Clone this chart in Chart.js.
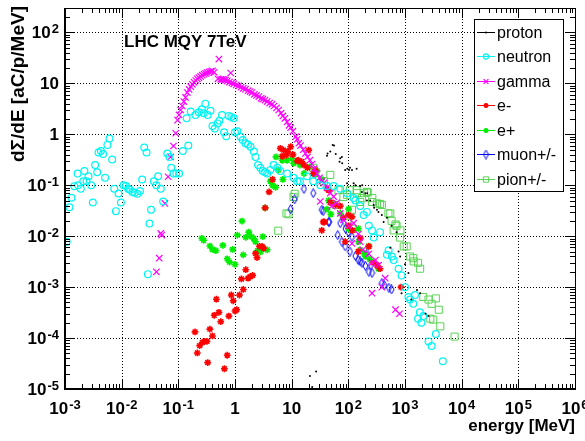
<!DOCTYPE html>
<html>
<head>
<meta charset="utf-8">
<script src="https://cdn.jsdelivr.net/npm/chart.js@4.4.1/dist/chart.umd.min.js"></script>
<style>
  html, body { margin: 0; padding: 0; background: #fff; }
  #wrap { width: 585px; height: 441px; }
</style>
</head>
<body>
<div id="wrap"><canvas id="chart"></canvas></div>
<script>
// energy [MeV], dSigma/dE [aC/p/MeV]
const proton = [[21,1.8e-5],[23,1.1e-5],[27,2.2e-5],[42,0.38],[43,0.42],[48,0.46],[53,0.62],[56,0.6],[60,0.41],[70,0.29],[72,0.34],[77,0.36],[78,0.27],[88,0.2],[95,0.11],[96,0.21],[103,0.2],[107,0.22],[116,0.2],[124,0.11],[133,0.1],[140,0.21],[162,0.097],[174,0.074],[176,0.1],[200,0.07],[213,0.05],[215,0.07],[243,0.05],[280,0.041],[285,0.036],[320,0.033],[340,0.03],[390,0.026],[420,0.019],[480,0.023],[550,0.0059],[580,0.016],[710,0.012],[770,0.005],[820,0.004],[870,0.00076],[1000,0.0028],[1150,0.0019],[1300,0.00057],[1630,0.00088],[1850,0.00076],[2300,0.0003],[2600,0.00027]];

const neutron = [[0.00107,0.0078],[0.0012,0.037],[0.0013,0.057],[0.00146,0.096],[0.00167,0.17],[0.0017,0.1],[0.0019,0.085],[0.0021,0.12],[0.0022,0.19],[0.0024,0.12],[0.0026,0.15],[0.0029,0.1],[0.0031,0.046],[0.0034,0.25],[0.0037,0.18],[0.0039,0.44],[0.0043,0.47],[0.0047,0.41],[0.0051,0.14],[0.0056,0.62],[0.0061,0.83],[0.0068,0.32],[0.0074,0.085],[0.0079,0.031],[0.0088,0.069],[0.0097,0.046],[0.0108,0.1],[0.0119,0.097],[0.013,0.085],[0.014,0.082],[0.0155,0.074],[0.017,0.071],[0.019,0.068],[0.021,0.077],[0.023,0.13],[0.025,0.55],[0.0275,0.44],[0.029,0.0018],[0.031,0.0177],[0.033,0.033],[0.037,0.12],[0.041,0.1],[0.044,0.15],[0.049,0.085],[0.054,0.048],[0.064,0.42],[0.07,0.36],[0.075,0.22],[0.082,0.17],[0.092,0.17],[0.103,0.17],[0.12,0.47],[0.14,2.06],[0.15,0.6],[0.165,2.8],[0.2,2.4],[0.23,2.7],[0.26,3.1],[0.28,2.6],[0.3,4.0],[0.33,2.4],[0.37,2.9],[0.4,1.45],[0.44,1.3],[0.49,1.64],[0.53,1.84],[0.59,2.4],[0.64,1.1],[0.7,0.92],[0.78,2.3],[0.86,2.2],[0.95,2.06],[1.0,1.1],[1.1,1.15],[1.25,0.9],[1.37,0.77],[1.53,0.67],[1.7,0.63],[1.88,0.57],[2.15,0.46],[2.3,0.36],[2.55,0.25],[2.8,0.22],[3.1,0.19],[3.4,0.18],[3.7,0.17],[4.2,0.2],[4.8,0.25],[5.6,0.22],[6.3,0.19],[8.3,0.17],[10.8,0.14],[12.5,0.12],[14,0.12],[18.6,0.15],[24,0.12],[32,0.1],[42,0.097],[55,0.097],[72,0.085],[95,0.07],[124,0.056],[133,0.05],[162,0.039],[186,0.026],[213,0.03],[230,0.016],[262,0.013],[280,0.0094],[363,0.012],[480,0.0043],[514,0.0053],[588,0.004],[630,0.0034],[770,0.0023],[870,0.0017],[1000,0.001],[1150,0.00064],[1230,0.00057],[1400,0.00047],[1500,0.0007],[1700,0.00024],[1830,0.00032],[1950,0.0002],[2100,0.00027],[2600,0.000086],[2950,0.00007],[3500,0.00012],[4650,0.000035]];

const gamma = [[0.041,0.002],[0.046,0.0037],[0.049,0.0114],[0.051,0.0105],[0.058,0.044],[0.066,0.147],[0.073,0.36],[0.082,0.59],[0.09,1.05],[0.097,1.9],[0.103,2.4],[0.11,3.0],[0.117,3.6],[0.125,4.4],[0.134,5.3],[0.144,6.6],[0.155,7.6],[0.166,8.6],[0.177,9.6],[0.19,10.5],[0.203,11.4],[0.216,12.3],[0.23,13],[0.248,13.7],[0.265,14.5],[0.285,15.2],[0.305,15.7],[0.325,16.2],[0.35,16.8],[0.375,17.3],[0.4,17.6],[0.43,16.5],[0.52,30],[0.5,12.3],[0.56,12],[0.6,12],[0.64,11.8],[0.68,11.6],[0.73,11.2],[0.84,16],[0.8,10.6],[0.88,10.2],[0.95,9.8],[1.05,9.3],[1.16,8.9],[1.28,8.4],[1.4,8.0],[1.53,7.7],[1.7,7.2],[1.85,6.9],[2.0,6.6],[2.2,6.1],[2.4,5.8],[2.64,5.5],[2.9,5.1],[3.1,4.9],[3.4,4.7],[3.7,4.4],[4.1,4.1],[4.5,3.9],[4.9,3.6],[5.4,3.3],[5.9,3.0],[6.5,2.6],[7.0,2.3],[7.6,2.06],[8.3,1.75],[9.0,1.5],[9.6,1.35],[10.5,1.15],[11.8,0.9],[12.5,0.8],[13.4,0.67],[14.3,0.6],[16,0.5],[17.5,0.42],[19,0.36],[21,0.31],[23,0.26],[25,0.21],[28,0.17],[31,0.14],[34,0.12],[37,0.11],[42,0.09],[48,0.07],[55,0.06],[62,0.045],[32,0.048],[51,0.039],[72,0.028],[82,0.021],[100,0.016],[124,0.018],[116,0.0072],[150,0.011],[162,0.0078],[180,0.0054],[230,0.0045],[262,0.003],[300,0.0034],[340,0.0027],[390,0.001],[447,0.0015],[262,0.00076],[680,0.00036],[800,0.0003]];

const electron = [[0.197,1.32e-4],[0.216,5.1e-5],[0.238,7.1e-5],[0.265,8.2e-5],[0.29,8.6e-5],[0.32,8.6e-5],[0.33,3.3e-5],[0.36,1.5e-4],[0.4,1.1e-4],[0.43,2.8e-4],[0.47,5.8e-4],[0.52,3.2e-4],[0.56,2.1e-4],[0.65,2.5e-5],[0.73,4.6e-5],[0.78,2.7e-4],[0.86,7e-4],[0.93,5.4e-4],[1.0,3.4e-4],[1.07,3.6e-4],[1.2,7e-4],[1.3,1.45e-3],[1.4,9e-4],[1.55,2.2e-3],[1.7,1.5e-3],[1.85,1.6e-3],[2.05,1.7e-3],[2.3,4.6e-3],[2.45,3.8e-3],[2.7,6.3e-3],[3.0,6.3e-3],[3.2,5.8e-3],[3.4,0.036],[4.0,0.074],[4.6,0.13],[6.3,0.53],[6.8,0.37],[7.2,0.49],[8.0,0.39],[8.5,0.46],[9.6,0.57],[10.5,0.4],[12.5,0.3],[13,0.31],[15,0.29],[16.5,0.25],[20,0.49],[19,0.22],[24,0.17],[26,0.2],[34,0.013],[36,0.019],[38,0.019],[42,0.085],[45,0.08],[48,0.046],[60,0.041],[72,0.039],[82,0.023],[88,0.0078],[100,0.026],[102,0.016],[116,0.024],[118,0.013],[150,0.005],[162,0.0092],[230,0.0063],[280,0.003],[320,0.0027],[363,0.0023],[850,0.001]];

const positron = [[0.26,9.1e-3],[0.28,8.3e-3],[0.36,6.4e-3],[0.4,5.5e-3],[0.46,5.2e-3],[0.61,6.6e-3],[0.73,3.6e-3],[0.8,3.1e-3],[0.91,5.5e-3],[1.0,2.8e-3],[1.1,1.05e-2],[1.33,1.98e-2],[1.4,4.3e-3],[1.55,9.5e-3],[1.75,1.2e-2],[1.95,9.8e-3],[2.15,8.9e-3],[2.3,7.8e-3],[2.5,5.2e-3],[2.8,4.9e-3],[3.1,9.8e-3],[3.4,0.036],[3.7,5.4e-3],[4.2,0.12],[4.6,0.1],[5.2,0.091],[5.3,0.36],[5.8,0.2],[6.8,0.31],[7,0.13],[8.3,0.31],[10.1,0.34],[10.8,0.27],[14,0.25],[16.5,0.17],[21,0.23],[26,0.16],[28,0.19],[34,0.13],[42,0.034],[45,0.05],[49,0.027],[51,0.045],[72,0.028],[100,0.014],[101,0.034],[150,0.014],[152,0.0078],[162,0.0054],[190,0.0046],[200,0.004],[230,0.0064],[240,0.0035],[340,0.0023]];

const muon = [[9.6,0.034],[11.3,0.053],[16.5,0.085],[24,0.07],[34,0.033],[36,0.031],[45,0.019],[46,0.019],[65,0.0105],[72,0.018],[77,0.0078],[88,0.0063],[89,0.014],[100,0.012],[107,0.005],[116,0.0097],[133,0.0041],[150,0.0034],[162,0.0032],[174,0.003],[213,0.0046],[200,0.0026],[230,0.002],[250,0.0027],[262,0.0019],[390,0.0012],[430,0.0011],[520,0.00097],[580,0.0009]];

const pion = [[5.8,0.0128],[8.1,0.028],[8.8,0.027],[10.8,0.059],[11.3,0.068],[24,0.22],[37,0.12],[48,0.16],[60,0.041],[67,0.08],[82,0.059],[95,0.065],[96,0.018],[107,0.08],[116,0.033],[117,0.014],[140,0.08],[142,0.07],[162,0.047],[174,0.056],[190,0.07],[213,0.074],[220,0.072],[262,0.047],[265,0.056],[320,0.044],[363,0.043],[390,0.041],[510,0.028],[550,0.028],[580,0.02],[630,0.013],[680,0.017],[710,0.016],[820,0.0094],[830,0.013],[950,0.0063],[1070,0.0063],[1230,0.004],[1400,0.0037],[1420,0.0032],[1700,0.003],[1850,0.0023],[2100,0.00064],[2600,0.00057],[2800,0.00024],[2950,0.00047],[3150,0.00023],[3500,0.0006],[3950,0.00036],[4200,0.00017],[7500,0.000107]];

const seriesNames = ['proton', 'neutron', 'gamma', 'e-', 'e+', 'muon+/-', 'pion+/-'];
const xDecades = [-3, -2, -1, 0, 1, 2, 3, 4, 5, 6];
const yDecades = [-5, -4, -3, -2, -1, 0, 1, 2];
const plotTitle = 'LHC MQY 7TeV';
const xTitle = 'energy [MeV]';
const yTitle = 'd\u03A3/dE [aC/p/MeV]';

const FONT = '"Liberation Sans", Arial, Helvetica, sans-serif';

function diamondImage(color) {
  const c = document.createElement('canvas');
  c.width = 7; c.height = 10;
  const g = c.getContext('2d');
  g.strokeStyle = color;
  g.lineWidth = 1;
  g.beginPath();
  g.moveTo(3.5, 0.5); g.lineTo(6, 5); g.lineTo(3.5, 9.5); g.lineTo(1, 5); g.closePath();
  g.stroke();
  return c;
}

function toXY(arr) { return arr.map(([x, y]) => ({ x: x, y: y })); }

function isDecade(v) {
  const l = Math.log10(v);
  return Math.abs(l - Math.round(l)) < 1e-6;
}

function logTicks(scale) {
  const ticks = [];
  const lo = Math.floor(Math.log10(scale.min));
  const hi = Math.ceil(Math.log10(scale.max));
  for (let p = lo; p <= hi; p++) {
    for (let m = 1; m <= 9; m++) {
      const v = m * Math.pow(10, p);
      if (v >= scale.min * 0.9999 && v <= scale.max * 1.0001) ticks.push({ value: v });
    }
  }
  scale.ticks = ticks;
}

const datasets = [
  { label: seriesNames[0], data: toXY(proton), pointStyle: 'circle', pointRadius: 1, borderWidth: 0, backgroundColor: '#000', borderColor: '#000' },
  { label: seriesNames[1], data: toXY(neutron), pointStyle: 'circle', pointRadius: 3.4, borderWidth: 1.2, backgroundColor: 'rgba(0,0,0,0)', borderColor: '#00f4f4' },
  { label: seriesNames[2], data: toXY(gamma), pointStyle: 'crossRot', pointRadius: 4.5, borderWidth: 1.2, backgroundColor: 'rgba(0,0,0,0)', borderColor: '#ff00ff' },
  { label: seriesNames[3], data: toXY(electron), pointStyle: 'star', pointRadius: 3.4, borderWidth: 1.6, backgroundColor: 'rgba(0,0,0,0)', borderColor: '#ff0000' },
  { label: seriesNames[4], data: toXY(positron), pointStyle: 'star', pointRadius: 3.4, borderWidth: 1.6, backgroundColor: 'rgba(0,0,0,0)', borderColor: '#00ee00' },
  { label: seriesNames[5], data: toXY(muon), pointStyle: diamondImage('#0000ff'), pointRadius: 4, borderWidth: 1, backgroundColor: 'rgba(0,0,0,0)', borderColor: '#0000ff' },
  { label: seriesNames[6], data: toXY(pion), pointStyle: 'rect', pointRadius: 5, borderWidth: 1, backgroundColor: 'rgba(0,0,0,0)', borderColor: '#59d454' }
];

function powLabel(ctx, p, x, y, align) {
  const base = p === 0 ? '1' : '10';
  const exp = (p === 0 || p === 1) ? '' : String(p);
  ctx.font = 'bold 17px ' + FONT;
  const wb = ctx.measureText(base).width;
  ctx.font = 'bold 13px ' + FONT;
  const we = exp ? ctx.measureText(exp).width + 1 : 0;
  const total = wb + we;
  const x0 = align === 'center' ? x - total / 2 : x - total;
  ctx.textAlign = 'left';
  ctx.textBaseline = 'alphabetic';
  ctx.font = 'bold 17px ' + FONT;
  ctx.fillText(base, x0, y);
  if (exp) {
    ctx.font = 'bold 13px ' + FONT;
    ctx.fillText(exp, x0 + wb + 1, y - 5);
  }
}

// dotted grid at decades, under the markers
const rootGrid = {
  id: 'rootGrid',
  beforeDatasetsDraw(chart) {
    const ctx = chart.ctx;
    const a = chart.chartArea;
    const xs = chart.scales.x, ys = chart.scales.y;
    ctx.save();
    ctx.strokeStyle = '#000';
    ctx.lineWidth = 1;
    ctx.setLineDash([1, 2]);
    ctx.beginPath();
    xDecades.forEach(p => {
      const px = Math.round(xs.getPixelForValue(Math.pow(10, p))) + 0.5;
      if (px > a.left + 2 && px < a.right - 2) { ctx.moveTo(px, a.bottom); ctx.lineTo(px, a.top); }
    });
    yDecades.forEach(p => {
      const py = Math.round(ys.getPixelForValue(Math.pow(10, p))) + 0.5;
      if (py > a.top + 2 && py < a.bottom - 2) { ctx.moveTo(a.left, py); ctx.lineTo(a.right, py); }
    });
    ctx.stroke();
    ctx.restore();
  }
};

const rootDecor = {
  id: 'rootDecor',
  afterDraw(chart) {
    const ctx = chart.ctx;
    const a = chart.chartArea;
    const xs = chart.scales.x, ys = chart.scales.y;
    ctx.save();
    ctx.strokeStyle = '#000';
    ctx.fillStyle = '#000';

    // frame
    ctx.lineWidth = 1;
    ctx.strokeRect(Math.round(a.left) + 0.5, Math.round(a.top) + 0.5, Math.round(a.right - a.left), Math.round(a.bottom - a.top));
    ctx.lineWidth = 2;
    ctx.beginPath();
    ctx.moveTo(Math.round(a.left), Math.round(a.top));
    ctx.lineTo(Math.round(a.left), Math.round(a.bottom));
    ctx.lineTo(Math.round(a.right), Math.round(a.bottom));
    ctx.stroke();

    // inner ticks
    ctx.lineWidth = 1;
    ctx.beginPath();
    xs.ticks.forEach(t => {
      const px = Math.round(xs.getPixelForValue(t.value)) + 0.5;
      const len = isDecade(t.value) ? 10 : 5;
      ctx.moveTo(px, a.bottom); ctx.lineTo(px, a.bottom - len);
      ctx.moveTo(px, a.top); ctx.lineTo(px, a.top + len);
    });
    ys.ticks.forEach(t => {
      const py = Math.round(ys.getPixelForValue(t.value)) + 0.5;
      const len = isDecade(t.value) ? 10 : 5;
      ctx.moveTo(a.left, py); ctx.lineTo(a.left + len, py);
      ctx.moveTo(a.right, py); ctx.lineTo(a.right - len, py);
    });
    ctx.stroke();

    // tick labels
    xDecades.forEach(p => {
      powLabel(ctx, p, xs.getPixelForValue(Math.pow(10, p)), a.bottom + 25, 'center');
    });
    yDecades.forEach(p => {
      powLabel(ctx, p, a.left - 6, ys.getPixelForValue(Math.pow(10, p)) + 6, 'right');
    });

    // axis titles
    ctx.font = 'bold 17px ' + FONT;
    ctx.textAlign = 'right';
    ctx.textBaseline = 'alphabetic';
    ctx.fillText(xTitle, a.right, 431);

    ctx.save();
    ctx.translate(24, 6);
    ctx.rotate(-Math.PI / 2);
    ctx.font = 'bold 19px ' + FONT;
    ctx.textAlign = 'right';
    ctx.fillText(yTitle, 0, 0);
    ctx.restore();

    // plot title
    ctx.font = 'bold 17px ' + FONT;
    ctx.textAlign = 'left';
    ctx.fillText(plotTitle, 124, 47);

    // legend
    const lx = 474, ly = 19, lw = 89, lh = 172;
    ctx.fillStyle = '#fff';
    ctx.fillRect(lx, ly, lw, lh);
    ctx.lineWidth = 1;
    ctx.strokeStyle = '#000';
    ctx.strokeRect(lx + 0.5, ly + 0.5, lw, lh);
    chart.data.datasets.forEach((ds, i) => {
      const y = 31.5 + i * 24.5;
      ctx.strokeStyle = ds.borderColor;
      ctx.lineWidth = 1;
      ctx.beginPath();
      ctx.moveTo(477, Math.round(y) + 0.5);
      ctx.lineTo(495, Math.round(y) + 0.5);
      ctx.stroke();
      const opts = { pointStyle: ds.pointStyle, radius: Math.max(1, ds.pointRadius * 0.75), rotation: 0, borderWidth: ds.borderWidth };
      ctx.fillStyle = ds.backgroundColor;
      ctx.lineWidth = ds.borderWidth;
      if (i === 0) { ctx.fillStyle = '#000'; }
      Chart.helpers.drawPoint(ctx, opts, 486, Math.round(y) + 0.5);
      ctx.fillStyle = '#000';
      ctx.font = '16px ' + FONT;
      ctx.textAlign = 'left';
      ctx.textBaseline = 'alphabetic';
      ctx.fillText(ds.label, 497, Math.round(y) + 6);
    });
    ctx.restore();
  }
};

new Chart(document.getElementById('chart'), {
  type: 'scatter',
  data: { datasets: datasets },
  options: {
    responsive: true,
    maintainAspectRatio: false,
    animation: false,
    events: [],
    layout: { padding: { top: 8, right: 10, bottom: 0, left: 0 } },
    plugins: { legend: { display: false }, tooltip: { enabled: false } },
    scales: {
      x: {
        type: 'logarithmic',
        position: 'bottom',
        min: 1e-3,
        max: 1e6,
        afterBuildTicks: logTicks,
        afterFit: (s) => { s.height = 52; },
        ticks: { display: false, autoSkip: false },
        grid: { display: false },
        border: { display: false }
      },
      y: {
        type: 'logarithmic',
        position: 'left',
        min: 1e-5,
        max: 302,
        afterBuildTicks: logTicks,
        afterFit: (s) => { s.width = 65; },
        ticks: { display: false, autoSkip: false },
        grid: { display: false },
        border: { display: false }
      }
    }
  },
  plugins: [rootGrid, rootDecor]
});
</script>
</body>
</html>
